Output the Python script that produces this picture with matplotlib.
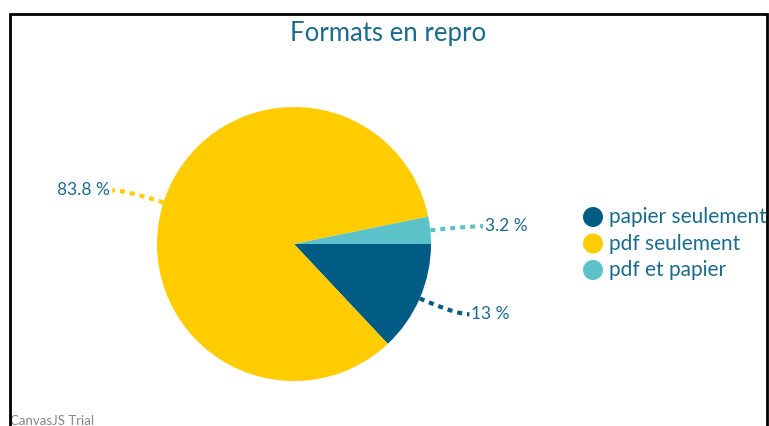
import numpy as np
import matplotlib
matplotlib.use('Agg')
import matplotlib.pyplot as plt
from matplotlib.patches import Circle, Rectangle

# Datos
categorias = ['papier seulement', 'pdf seulement', 'pdf et papier']
valores = [13.0, 83.8, 3.2]
etiquetas = ['13 %', '83.8 %', '3.2 %']
colores = ['#005C84', '#FFCC00', '#5BC2C9']

titulo = 'Formats en repro'
color_texto = '#1B6B8E'

W, H = 769, 426
fig = plt.figure(figsize=(W / 100, H / 100), dpi=100)
ax = fig.add_axes([0, 0, 1, 1])

plt.rcParams['font.family'] = ['Lato', 'DejaVu Sans']

cx, cy, r = 294, H - 244, 137
wedges, _ = ax.pie(valores, colors=colores, startangle=0, counterclock=False,
                   center=(cx, cy), radius=r, frame=True,
                   wedgeprops=dict(linewidth=0))
ax.set_xlim(0, W)
ax.set_ylim(0, H)
ax.set_aspect('equal')
ax.axis('off')

# Marco
ax.plot([10, 10, 767, 767], [0, H - 14, H - 14, 0], color='black', lw=2,
        solid_joinstyle='miter', clip_on=False, zorder=5)

ax.text(388, H - 33, titulo, ha='center', va='center', fontsize=18.5,
        color=color_texto)

# Lineas guia y etiquetas
for w, lab, col in zip(wedges, etiquetas, colores):
    ang = np.deg2rad((w.theta1 + w.theta2) / 2)
    dx, dy = np.cos(ang), np.sin(ang)
    p0 = np.array([cx + r * dx, cy + r * dy])
    p1 = np.array([cx + (r + 40) * dx, cy + (r + 40) * dy])
    lado = 1 if dx >= 0 else -1
    p2 = np.array([p1[0] + lado * 13, p1[1]])
    t = np.linspace(0, 1, 30)[:, None]
    curva = (1 - t) ** 2 * p0 + 2 * (1 - t) * t * p1 + t ** 2 * p2
    ax.plot(curva[:, 0], curva[:, 1], color=col, lw=3, ls=(0, (1.2, 1.2)),
            solid_capstyle='butt')
    ax.text(p2[0] + lado * 2, p2[1], lab, ha='left' if lado > 0 else 'right',
            va='center', fontsize=12.5, color=color_texto)

# Leyenda
clip = Rectangle((0, 0), 766, H, transform=ax.transData)
for i, (cat, col) in enumerate(zip(categorias, colores)):
    y = H - (217 + i * 26.5)
    ax.add_patch(Circle((593, y), 10, color=col, lw=0))
    tx = ax.text(609, y, cat, ha='left', va='center', fontsize=15,
                 color=color_texto)
    tx.set_clip_path(clip)

ax.text(10, 5, 'CanvasJS Trial', ha='left', va='center', fontsize=9.5,
        color='#888888')

plt.savefig('out.png', dpi=100)
